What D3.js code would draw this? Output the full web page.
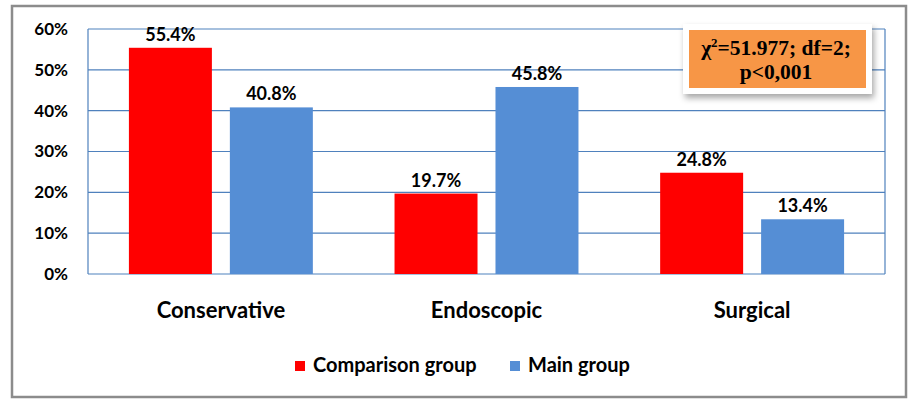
<!DOCTYPE html>
<html><head><meta charset="utf-8">
<script src="https://cdn.jsdelivr.net/npm/d3@7"></script>
<style>body{margin:0;background:#fff}svg{display:block}</style>
</head><body>
<script>
const categories = ["Conservative", "Endoscopic", "Surgical"];
const seriesNames = ["Comparison group", "Main group"];
const comparison = [55.4, 19.7, 24.8];
const mainGroup = [40.8, 45.8, 13.4];
const yTicks = [0, 10, 20, 30, 40, 50, 60];
const colors = ["#FF0000", "#558ED5"];
const statLine1 = ["χ", "2", "=51.977; df=2;"];
const statLine2 = "p<0,001";

const W = 917, H = 410;
const svg = d3.select("body").append("svg").attr("width", W).attr("height", H);
const font = "Lato, 'Open Sans', sans-serif";

// outer border
svg.append("rect").attr("x", 12).attr("y", 6).attr("width", 894).attr("height", 391)
  .attr("fill", "#fff").attr("stroke", "#8c8c8c").attr("stroke-width", 2.5);

const m = {l: 88, r: 885, t: 29, b: 274};
const x0 = d3.scaleBand().domain(categories).range([m.l, m.r]).paddingInner(0.3075).paddingOuter(0.154);
const x1 = d3.scaleBand().domain(seriesNames).range([0, x0.bandwidth()]).paddingInner(0.178);
const y = d3.scaleLinear().domain([0, 60]).range([m.b, m.t]);

// gridlines
svg.append("g").selectAll("line").data(yTicks).join("line")
  .attr("x1", m.l).attr("x2", m.r).attr("y1", d => y(d)).attr("y2", d => y(d))
  .attr("stroke", "#4F81BD").attr("stroke-width", 1.2);
svg.append("line").attr("x1", m.l).attr("x2", m.l).attr("y1", m.t).attr("y2", m.b)
  .attr("stroke", "#4F81BD").attr("stroke-width", 1.2);
svg.append("line").attr("x1", m.r).attr("x2", m.r).attr("y1", m.t).attr("y2", m.b)
  .attr("stroke", "#4F81BD").attr("stroke-width", 1.2);

// y axis labels
const yAxis = d3.axisLeft(y).tickValues(yTicks).tickFormat(d => d + "%").tickSize(0).tickPadding(20);
const ya = svg.append("g").attr("transform", `translate(${m.l},0)`).call(yAxis);
ya.select(".domain").remove();
ya.selectAll("text").attr("font-family", font).attr("font-weight", "bold").attr("font-size", 17).attr("fill", "#000");

// bars
const data = categories.map((c, i) => ({cat: c, vals: [comparison[i], mainGroup[i]]}));
const g = svg.append("g").selectAll("g").data(data).join("g")
  .attr("transform", d => `translate(${x0(d.cat)},0)`);
g.selectAll("rect").data(d => d.vals.map((v, j) => ({s: seriesNames[j], v, j}))).join("rect")
  .attr("x", d => x1(d.s)).attr("width", x1.bandwidth())
  .attr("y", d => y(d.v)).attr("height", d => y(0) - y(d.v))
  .attr("fill", d => colors[d.j]);
g.selectAll("text").data(d => d.vals.map((v, j) => ({s: seriesNames[j], v, j}))).join("text")
  .attr("x", d => x1(d.s) + x1.bandwidth() / 2).attr("y", d => y(d.v) - 7)
  .attr("text-anchor", "middle").attr("font-family", font).attr("font-weight", "bold")
  .attr("font-size", 18).attr("fill", "#000").text(d => d.v.toFixed(1) + "%");

// x axis labels
const xAxis = d3.axisBottom(x0).tickSize(0).tickPadding(28);
const xa = svg.append("g").attr("transform", `translate(0,${m.b})`).call(xAxis);
xa.select(".domain").remove();
xa.selectAll("text").attr("font-family", font).attr("font-weight", "bold").attr("font-size", 22).attr("fill", "#000");

// legend
const legX = [295, 510];
const lg = svg.append("g").selectAll("g").data(seriesNames).join("g")
  .attr("transform", (d, i) => `translate(${legX[i]},361)`);
lg.append("rect").attr("width", 10).attr("height", 10).attr("fill", (d, i) => colors[i]);
lg.append("text").attr("x", 18).attr("y", 11).attr("font-family", font).attr("font-weight", "bold")
  .attr("font-size", 20).attr("fill", "#000").text(d => d);

// stat box with shadow
const defs = svg.append("defs");
const f = defs.append("filter").attr("id", "sh").attr("x", "-20%").attr("y", "-20%").attr("width", "140%").attr("height", "150%");
f.append("feDropShadow").attr("dx", 2).attr("dy", 4).attr("stdDeviation", 3).attr("flood-color", "#000").attr("flood-opacity", 0.35);
svg.append("rect").attr("x", 683).attr("y", 24).attr("width", 189).attr("height", 70)
  .attr("fill", "#fff").attr("filter", "url(#sh)");
svg.append("rect").attr("x", 689).attr("y", 30).attr("width", 177).attr("height", 58).attr("fill", "#F79646");
const sf = "'Liberation Serif', 'Times New Roman', serif";
const st1 = svg.append("text").attr("text-anchor", "middle").attr("font-family", sf)
  .attr("font-weight", "bold").attr("font-size", 21.5).attr("fill", "#000")
  .attr("x", 776).attr("y", 55);
st1.append("tspan").text(statLine1[0]);
st1.append("tspan").attr("font-size", 13).attr("dy", -8).text(statLine1[1]);
st1.append("tspan").attr("dy", 8).text(statLine1[2]);
svg.append("text").attr("text-anchor", "middle").attr("font-family", sf)
  .attr("font-weight", "bold").attr("font-size", 21.5).attr("fill", "#000")
  .attr("x", 776).attr("y", 79).text(statLine2);
</script>
</body></html>
